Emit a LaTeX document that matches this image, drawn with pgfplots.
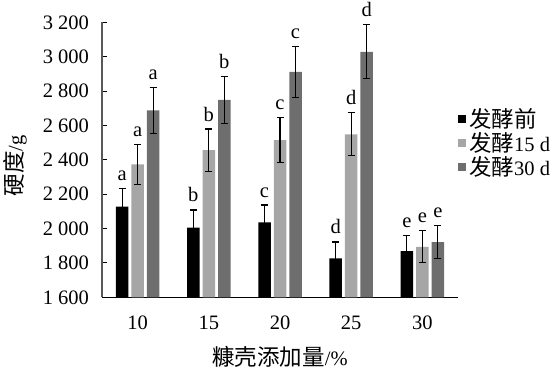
\documentclass[border=0pt]{standalone}
\usepackage{fontspec}
\setmainfont{Liberation Serif}
\newfontfamily\cjk{Noto Sans CJK SC}
\newcommand\ck[1]{{\fontsize{22.5}{27}\selectfont\cjk #1}}
\usepackage{pgfplots}
\usepackage{pgfplotstable}
\pgfplotsset{compat=1.18}
\definecolor{lg}{HTML}{A6A6A6}
\definecolor{dg}{HTML}{6E6E6E}
\definecolor{ax}{HTML}{595959}

\pgfplotstableread{
x y e l
0 2127 107 a
1 2005 103 b
2 2036 101 c
3 1827 95 d
4 1869 91 e
}\tA
\pgfplotstableread{
x y e l
0 2373 118 a
1 2456 123 b
2 2515 130 c
3 2548 125 d
4 1894 93 e
}\tB
\pgfplotstableread{
x y e l
0 2687 134 a
1 2749 136 b
2 2912 147 c
3 3028 157 d
4 1921 97 e
}\tC

\pgfplotsset{
  mylegend/.style={legend image code/.code={\fill[##1] (0pt,-4pt) rectangle (8pt,4pt);}},
  myerr/.style={error bars/.cd, y dir=both, y explicit,
     error bar style={black, line width=1.1pt},
     error mark options={black, rotate=90, mark size=3.5pt, line width=1.1pt}},
  lab/.style={draw=none, mark=none, forget plot, nodes near coords, point meta=explicit symbolic,
     nodes near coords style={anchor=base, yshift=8pt, inner sep=0pt}},
}

\begin{document}
\fontsize{20.5}{24}\selectfont
\begin{tikzpicture}
\path[use as bounding box] (-102pt,-79.7pt) rectangle (451pt,297.3pt);
\begin{axis}[
  at={(0,0)}, anchor=south west,
  scale only axis, width=356pt, height=275pt,
  xmin=-0.5, xmax=4.5, ymin=1600, ymax=3200,
  axis x line=bottom, axis y line=left,
  axis line style={-},
  x axis line style={black, line width=1.2pt},
  y axis line style={ax, line width=1.2pt},
  xtick={0,1,2,3,4}, xticklabels={10,15,20,25,30},
  x tick style={draw=none},
  ytick={1600,1800,...,3200},
  tick align=inside, major tick length=5pt,
  y tick style={black, line width=1pt},
  /pgf/number format/assume math mode=true,
  /pgf/number format/1000 sep={\ },
  xticklabel style={yshift=-12pt},
  yticklabel style={xshift=-6pt},
  ylabel={\ck{硬度}/g},
  xlabel={\ck{糠壳添加量}/\%},
  ylabel style={at={(axis description cs:-0.244,0.478)}, anchor=center},
  xlabel style={at={(axis description cs:0.5,-0.218)}, anchor=center},
  bar width=12.5pt,
  legend style={at={(axis description cs:1.0,0.56)}, anchor=west, draw=none, fill=none,
     inner sep=0pt, row sep=0pt, nodes={inner xsep=3pt, inner ysep=1pt}},
  legend cell align=left,
]
\addplot[ybar, bar shift=0pt, fill=black, draw=none, mylegend, myerr] table[x expr=\thisrow{x}-0.2177, y=y, y error=e] {\tA};
\addplot[ybar, bar shift=0pt, fill=lg, draw=none, mylegend, myerr] table[x=x, y=y, y error=e] {\tB};
\addplot[ybar, bar shift=0pt, fill=dg, draw=none, mylegend, myerr] table[x expr=\thisrow{x}+0.2177, y=y, y error=e] {\tC};
\legend{\ck{发酵前}, \ck{发酵}15 d, \ck{发酵}30 d}
\addplot[lab] table[x expr=\thisrow{x}-0.2177, y expr=\thisrow{y}+\thisrow{e}, meta=l] {\tA};
\addplot[lab] table[x=x, y expr=\thisrow{y}+\thisrow{e}, meta=l] {\tB};
\addplot[lab] table[x expr=\thisrow{x}+0.2177, y expr=\thisrow{y}+\thisrow{e}, meta=l] {\tC};
\end{axis}
\end{tikzpicture}
\end{document}
